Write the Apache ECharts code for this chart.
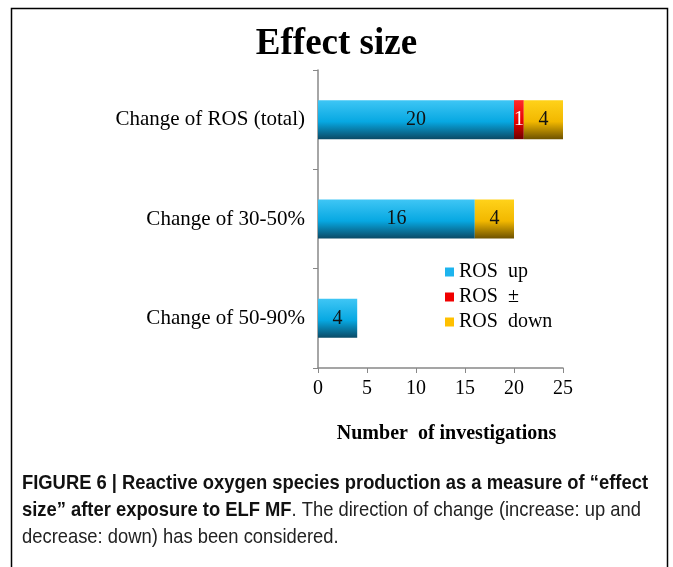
<!DOCTYPE html>
<html>
<head>
<meta charset="utf-8">
<script src="https://cdn.jsdelivr.net/npm/echarts@6/dist/echarts.min.js"></script>
<style>
  html, body { margin: 0; padding: 0; background: #fff; }
  #chart { width: 673px; height: 567px; }
</style>
</head>
<body>
<div id="chart"></div>
<script>
var categories = ['Change of ROS (total)', 'Change of 30-50%', 'Change of 50-90%'];
var rosUp = [20, 16, 4];
var rosMixed = [1, 0, 0];
var rosDown = [4, 4, 0];
var xTicks = { min: 0, max: 25, interval: 5 };

var serif = '"Liberation Serif", "DejaVu Serif", serif';
var sans = '"Liberation Sans", Arial, sans-serif';

// bars have a shaded bottom edge, like the office 3d style
function shade(top, mid, bottom) {
    return new echarts.graphic.LinearGradient(0, 0, 0, 1, [
        { offset: 0, color: top },
        { offset: 0.55, color: mid },
        { offset: 1, color: bottom }
    ]);
}

function barLabel(color) {
    return {
        show: true,
        position: 'inside',
        color: color,
        fontFamily: serif,
        fontSize: 20,
        formatter: function (p) { return p.value ? p.value : ''; }
    };
}

var myChart = echarts.init(document.getElementById('chart'));
myChart.setOption({
    animation: false,
    title: {
        text: 'Effect size',
        left: 'center',
        top: 21,
        textStyle: { fontFamily: serif, fontWeight: 'bold', fontSize: 37, color: '#000' }
    },
    legend: {
        orient: 'vertical',
        left: 440,
        top: 257,
        icon: 'rect',
        itemWidth: 9,
        itemHeight: 9,
        itemGap: 5,
        textStyle: { fontFamily: serif, fontSize: 20, color: '#000' },
        data: [
            { name: 'ROS  up', itemStyle: { color: '#1db4ee' } },
            { name: 'ROS  \u00b1', itemStyle: { color: '#f00000' } },
            { name: 'ROS  down', itemStyle: { color: '#ffc000' } }
        ]
    },
    grid: { left: 318, right: 110, top: 70, bottom: 199 },
    xAxis: {
        type: 'value',
        min: xTicks.min,
        max: xTicks.max,
        interval: xTicks.interval,
        name: 'Number  of investigations',
        nameLocation: 'middle',
        nameGap: 56,
        nameTextStyle: { fontFamily: serif, fontWeight: 'bold', fontSize: 20, color: '#000', padding: [0, 0, 0, 12] },
        axisLine: { show: true, lineStyle: { color: '#888', width: 1.5 } },
        axisTick: { show: true, length: 5, lineStyle: { color: '#888' } },
        axisLabel: { fontFamily: serif, fontSize: 20, color: '#000', margin: 11 },
        splitLine: { show: false }
    },
    yAxis: {
        type: 'category',
        inverse: true,
        data: categories,
        axisLine: { show: true, lineStyle: { color: '#888', width: 1.5 } },
        axisTick: { show: true, length: 5, lineStyle: { color: '#888' } },
        axisLabel: { fontFamily: serif, fontSize: 21, color: '#000', margin: 13 }
    },
    series: [
        {
            name: 'ROS  up', type: 'bar', stack: 'ros', barWidth: 39,
            itemStyle: { color: shade('#3fc6f5', '#07a8e2', '#0a4a66') },
            label: barLabel('#111'),
            data: rosUp
        },
        {
            name: 'ROS  \u00b1', type: 'bar', stack: 'ros',
            itemStyle: { color: shade('#ff2a2a', '#e60000', '#700000') },
            label: barLabel('#fff'),
            data: rosMixed
        },
        {
            name: 'ROS  down', type: 'bar', stack: 'ros',
            itemStyle: { color: shade('#ffd21a', '#f2b800', '#6e5200') },
            label: barLabel('#111'),
            data: rosDown
        }
    ],
    graphic: [
        {
            type: 'rect',
            shape: { x: 11.5, y: 8.5, width: 656, height: 600 },
            style: { fill: null, stroke: '#000', lineWidth: 1.5 },
            silent: true
        },
        {
            // caption font is condensed, squeeze a normal sans instead
            type: 'group', x: 22, y: 473, scaleX: 0.875,
            children: [
                {
                    type: 'text', x: 0, y: 0,
                    style: {
                        text: 'FIGURE 6 | Reactive oxygen species production as a measure of \u201ceffect',
                        font: 'bold 21px ' + sans, fill: '#111'
                    }
                },
                {
                    type: 'text', x: 0, y: 27,
                    style: {
                        text: '{b|size\u201d after exposure to ELF MF}{n|. The direction of change (increase: up and}',
                        rich: {
                            b: { font: 'bold 21px ' + sans, fill: '#111' },
                            n: { font: '21px ' + sans, fill: '#222' }
                        }
                    }
                },
                {
                    type: 'text', x: 0, y: 54,
                    style: {
                        text: 'decrease: down) has been considered.',
                        font: '21px ' + sans, fill: '#222'
                    }
                }
            ]
        }
    ]
});
</script>
</body>
</html>
